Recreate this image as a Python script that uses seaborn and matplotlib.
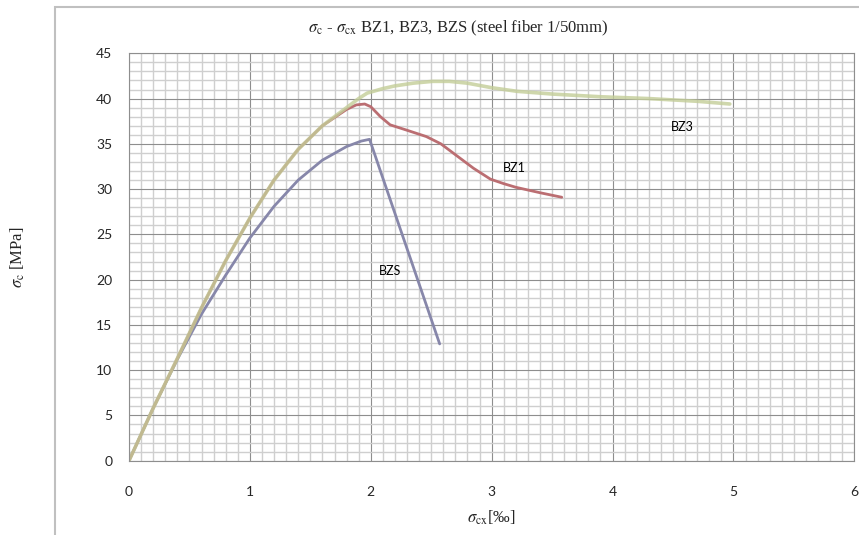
import matplotlib
matplotlib.use("Agg")
import matplotlib.pyplot as plt
import seaborn as sns
from matplotlib.patches import Rectangle
from matplotlib.ticker import MultipleLocator

# strain [permil] / stress [MPa]
bz1_x = [0, 0.2, 0.4, 0.6, 0.8, 1.0, 1.2, 1.4, 1.6, 1.8, 1.88, 1.95, 2.0, 2.08, 2.16, 2.3, 2.46,
         2.58, 2.7, 2.85, 2.99, 3.1, 3.2, 3.4, 3.58]
bz1_y = [0, 5.8, 11.3, 16.9, 22.1, 26.8, 31.0, 34.4, 37.0, 38.8, 39.3, 39.4, 39.1, 38.0, 37.1, 36.5, 35.8,
         35.0, 33.8, 32.3, 31.1, 30.6, 30.2, 29.6, 29.1]

bz3_x = [0, 0.2, 0.4, 0.6, 0.8, 1.0, 1.2, 1.4, 1.6, 1.8, 1.9, 1.97, 2.1, 2.2, 2.35, 2.51, 2.65, 2.8,
         3.0, 3.21, 3.5, 3.9, 4.3, 4.7, 4.97]
bz3_y = [0, 5.8, 11.3, 16.9, 22.1, 26.8, 31.0, 34.4, 37.0, 39.0, 40.0, 40.6, 41.1, 41.4, 41.7, 41.9, 41.9, 41.7,
         41.2, 40.8, 40.5, 40.2, 40.0, 39.7, 39.4]

bzs_x = [0, 0.2, 0.4, 0.6, 0.8, 1.0, 1.2, 1.4, 1.6, 1.8, 1.92, 1.99, 2.57]
bzs_y = [0, 5.8, 11.2, 16.2, 20.5, 24.6, 28.1, 31.0, 33.2, 34.7, 35.3, 35.5, 12.9]

series = [
    ("BZS", bzs_x, bzs_y, "#8787aa", 2.0, 1.0, (2.16, 20.9)),
    ("BZ1", bz1_x, bz1_y, "#bb6e72", 2.0, 1.0, (3.19, 32.3)),
    ("BZ3", bz3_x, bz3_y, "#c3cd98", 2.6, 0.8, (4.58, 36.9)),
]

sns.set_style("white")
plt.rcParams["mathtext.fontset"] = "stix"

fig = plt.figure(figsize=(8.59, 5.35), dpi=100)
ax = fig.add_axes([129 / 859, 1 - 460.7 / 535, (854.3 - 129) / 859, (460.7 - 53.3) / 535])

for name, xs, ys, col, lw, alpha, pos in series:
    sns.lineplot(x=xs, y=ys, ax=ax, color=col, linewidth=lw, alpha=alpha, sort=False, estimator=None)
    ax.text(pos[0], pos[1], name, ha="center", va="center", fontsize=9, family="Lato", color="black")

ax.set_xlim(0, 6)
ax.set_ylim(0, 45)
ax.xaxis.set_major_locator(MultipleLocator(1))
ax.xaxis.set_minor_locator(MultipleLocator(0.1))
ax.yaxis.set_major_locator(MultipleLocator(5))
ax.yaxis.set_minor_locator(MultipleLocator(1))
ax.grid(which="minor", color="#cfcfcf", linewidth=1.0)
ax.grid(which="major", color="#8e8e8e", linewidth=0.8)
ax.set_axisbelow(True)
ax.tick_params(which="both", length=0)
ax.tick_params(axis="x", pad=18)
ax.tick_params(axis="y", pad=12)
for lab in ax.get_xticklabels() + ax.get_yticklabels():
    lab.set_family("Lato")
    lab.set_fontsize(10)
for sp in ax.spines.values():
    sp.set_color("#8e8e8e")
    sp.set_linewidth(0.8)

ax.set_xlabel(r"$\sigma_{\mathrm{cx}}$[‰]", family="Liberation Serif", fontsize=12)
ax.set_ylabel(r"$\sigma_{\mathrm{c}}$ [MPa]", family="Liberation Serif", fontsize=12)
ax.xaxis.set_label_coords(0.5, -0.118)
ax.yaxis.set_label_coords(-0.140, 0.5)

fig.text(458 / 859, 1 - 28 / 535, r"$\sigma_{\mathrm{c}}$ - $\sigma_{\mathrm{cx}}$ BZ1, BZ3, BZS (steel fiber 1/50mm)",
         ha="center", va="center", family="Liberation Serif", fontsize=12)

# outer chart frame, cut off on the right and bottom like the original
fig.patches.append(Rectangle((55 / 859, -0.05), 1.0, 1.037, transform=fig.transFigure,
                             fill=False, edgecolor="#c0c0c0", linewidth=1.5))

fig.savefig("out.png", dpi=100)
